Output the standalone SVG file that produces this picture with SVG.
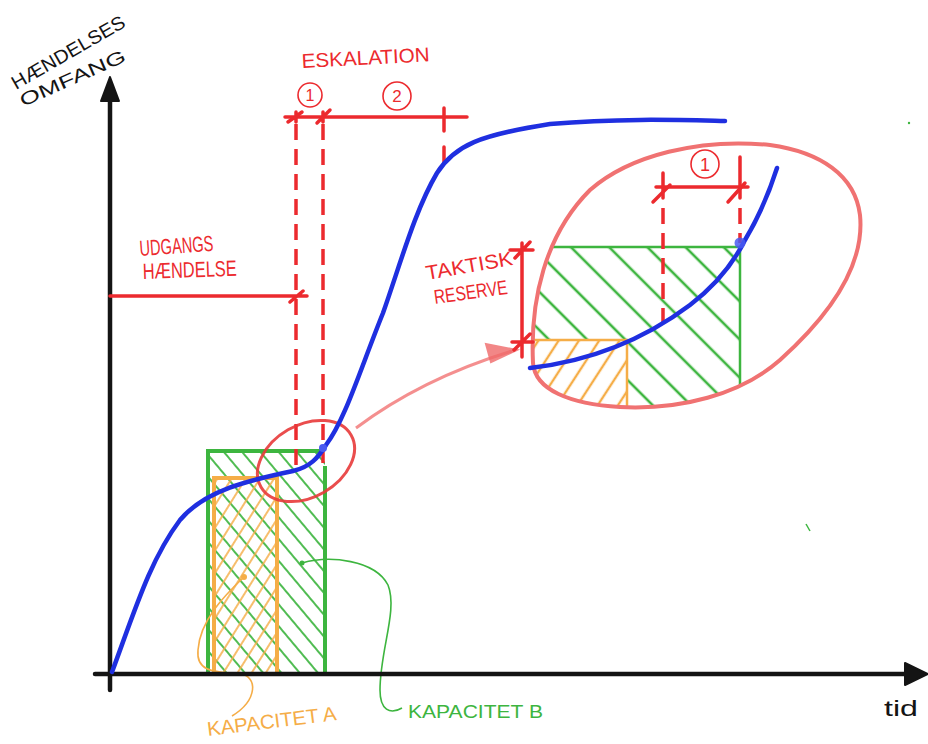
<svg xmlns="http://www.w3.org/2000/svg" width="928" height="744" viewBox="0 0 928 744">
<style>
.ax{stroke:#141414;stroke-width:4.5;fill:none;stroke-linecap:round}
.red{stroke:#ec2a2e;stroke-width:3.5;fill:none;stroke-linecap:round}
.dash{stroke:#ec2a2e;stroke-width:3.5;fill:none;stroke-dasharray:16 9}
.thin{stroke:#ec2a2e;stroke-width:1.6;fill:none}
.blue{stroke:#1f2fe0;stroke-width:4.5;fill:none;stroke-linecap:round}
.grn{stroke:#3db53f;stroke-width:4;fill:none}
.grn2{stroke:#3db53f;stroke-width:2.5;fill:none}
.org{stroke:#f5ad47;stroke-width:4;fill:none}
.org2{stroke:#f5ad47;stroke-width:2.5;fill:none}
.t{font-family:"Liberation Sans",Arial,sans-serif;fill:#ec2a2e}
.tn{font-family:"Liberation Sans",Arial,sans-serif;fill:#ec2a2e;text-anchor:middle}
</style>
<defs>
<pattern id="hG" patternUnits="userSpaceOnUse" width="14" height="14" patternTransform="rotate(-40)"><line x1="7" y1="0" x2="7" y2="14" stroke="#3db53f" stroke-width="1.8"/></pattern>
<pattern id="hO" patternUnits="userSpaceOnUse" width="12" height="12" patternTransform="rotate(32)"><line x1="6" y1="0" x2="6" y2="12" stroke="#f5ad47" stroke-width="1.6"/></pattern>
<pattern id="hG2" patternUnits="userSpaceOnUse" width="27" height="27" patternTransform="rotate(-45)"><line x1="13" y1="0" x2="13" y2="27" stroke="#3db53f" stroke-width="2.6"/></pattern>
<pattern id="hO2" patternUnits="userSpaceOnUse" width="17" height="17" patternTransform="rotate(33)"><line x1="8" y1="0" x2="8" y2="17" stroke="#f5ad47" stroke-width="2.4"/></pattern>
<clipPath id="bigClip"><path d="M 533,363 C 530,300 545,235 590,190 C 630,155 700,138 770,145 C 820,152 855,175 860,215 C 865,265 830,315 780,360 C 740,395 680,410 620,407 C 570,404 535,390 533,363 Z"/></clipPath>
</defs>
<rect width="928" height="744" fill="#ffffff"/>

<g id="capacity-main">
<rect x="208" y="451" width="117" height="222" fill="url(#hG)"/>
<rect x="214" y="478" width="63" height="195" fill="url(#hO)"/>
<path class="org" d="M 214,673 L 214,478 L 277,478 L 277,673"/>
<path class="grn" d="M 208,673 L 208,451 L 321,451 M 325,466 L 325,673"/>
</g>

<g id="leaders">
<circle cx="244" cy="577" r="3" fill="#f5ad47"/>
<path d="M 244,577 C 225,595 200,620 198,650 C 196,670 210,672 240,674 C 258,676 258,700 232,716" stroke="#f5ad47" stroke-width="1.6" fill="none"/>
<circle cx="302" cy="563" r="2.5" fill="#3db53f"/>
<path d="M 302,563 C 330,555 375,560 388,585 C 398,610 380,650 380,690 C 380,710 390,715 402,708" stroke="#3db53f" stroke-width="1.6" fill="none"/>
</g>

<g id="axes">
<path class="ax" d="M 110,690 L 110,95"/>
<polygon points="110,77 101,101 119,101" fill="#141414" stroke="#141414" stroke-width="2" stroke-linejoin="round"/>
<path class="ax" d="M 95,674 L 910,674"/>
<polygon points="928,674 905,663 905,685" fill="#141414" stroke="#141414" stroke-width="2" stroke-linejoin="round"/>
</g>

<g id="escalation">
<path class="red" d="M 285,117 L 467,117"/>
<path class="red" d="M 444,108 L 444,131 M 444,147 L 444,163"/>
<path class="red" d="M 288,122 L 302,112 M 296,112 L 296,122 M 317,123 L 330,110 M 323,112 L 323,122"/>
<path class="dash" d="M 296,124 L 296,466"/>
<path class="dash" d="M 323,124 L 323,463"/>
<circle class="thin" cx="310" cy="95" r="12"/>
<text class="tn" x="310" y="101" font-size="16">1</text>
<circle class="thin" cx="397" cy="96" r="14"/>
<text class="tn" x="397" y="102" font-size="17">2</text>
<text class="t" transform="translate(302,68) rotate(-3)" font-size="20" textLength="128" lengthAdjust="spacingAndGlyphs">ESKALATION</text>
</g>

<g id="udgangs">
<path class="red" d="M 110,296 L 307,296 M 290,302 L 303,291"/>
<text class="t" transform="translate(140,256) rotate(-4)" font-size="22" textLength="74" lengthAdjust="spacingAndGlyphs">UDGANGS</text>
<text class="t" transform="translate(143,279) rotate(-2)" font-size="22" textLength="94" lengthAdjust="spacingAndGlyphs">HÆNDELSE</text>
</g>

<g id="zoom-connector">
<ellipse cx="306" cy="461" rx="52" ry="36" transform="rotate(-30 306 461)" stroke="#e83a3a" stroke-width="3" fill="none" opacity="0.9"/>
<path d="M 356,428 C 400,395 450,370 512,351" stroke="#f06a6a" stroke-width="3" fill="none" opacity="0.75"/>
<polygon points="517,350 486,344 491,362" fill="#f06a6a" stroke="#f06a6a" stroke-width="2" opacity="0.8"/>
</g>

<g id="inset">
<g clip-path="url(#bigClip)">
<rect x="530" y="248" width="210" height="165" fill="url(#hG2)"/>
<rect x="530" y="341" width="97" height="72" fill="#ffffff"/>
<rect x="530" y="341" width="97" height="72" fill="url(#hO2)"/>
<path class="org2" d="M 530,340 L 627,340 L 627,412"/>
<path class="grn2" d="M 530,247 L 740,247 L 740,392"/>
</g>
<path d="M 533,363 C 530,300 545,235 590,190 C 630,155 700,138 770,145 C 820,152 855,175 860,215 C 865,265 830,315 780,360 C 740,395 680,410 620,407 C 570,404 535,390 533,363 Z" stroke="#f07272" stroke-width="4" fill="none"/>
<path class="red" d="M 656,187 L 748,187"/>
<path class="red" d="M 653,202 L 670,185 M 728,202 L 745,183"/>
<path class="red" stroke-width="3" d="M 663,173 L 663,198 M 740,157 L 740,198"/>
<path class="dash" stroke-width="3" stroke-dasharray="17 11" d="M 663,208 L 663,332"/>
<path class="dash" stroke-width="3" stroke-dasharray="15 10" d="M 740,208 L 740,243"/>
<circle class="thin" cx="705" cy="164" r="14"/>
<text class="tn" x="705" y="171" font-size="18">1</text>
<path class="red" stroke-width="2.5" d="M 522,243 L 522,357 M 510,250 L 533,250 M 515,258 L 530,242 M 512,342 L 533,342 M 514,350 L 530,334"/>
<text class="t" transform="translate(427,280) rotate(-10)" font-size="20" textLength="88" lengthAdjust="spacingAndGlyphs">TAKTISK</text>
<text class="t" transform="translate(435,304) rotate(-8)" font-size="20" textLength="74" lengthAdjust="spacingAndGlyphs">RESERVE</text>
</g>

<g id="curves">
<path class="blue" d="M 112,672 C 135,610 150,560 180,520 C 205,490 250,480 293,471 C 310,467 318,458 326,445 C 345,420 360,370 383,313 C 400,265 415,210 437,173 C 455,145 480,135 550,124 C 620,118 680,120 725,121"/>
<circle cx="323" cy="448" r="4" fill="#4a5af0"/>
<path class="blue" d="M 530,368 C 600,360 650,335 690,305 C 720,282 735,260 745,240 C 760,215 770,190 777,168"/>
<circle cx="740" cy="243" r="5.5" fill="#4a5af0" opacity="0.85"/>
</g>

<g id="labels">
<text transform="translate(16,90) rotate(-30)" font-family="Liberation Sans, Arial, sans-serif" font-size="19" fill="#141414" textLength="128" lengthAdjust="spacingAndGlyphs">HÆNDELSES</text>
<text transform="translate(23,107) rotate(-24)" font-family="Liberation Sans, Arial, sans-serif" font-size="18" fill="#141414" textLength="114" lengthAdjust="spacingAndGlyphs">OMFANG</text>
<text x="884" y="716" font-family="Liberation Sans, Arial, sans-serif" font-size="22" fill="#141414" textLength="34" lengthAdjust="spacingAndGlyphs">tid</text>
<text transform="translate(208,736) rotate(-7)" font-family="Liberation Sans, Arial, sans-serif" font-size="20" fill="#f5ad47" textLength="130" lengthAdjust="spacingAndGlyphs">KAPACITET A</text>
<text x="408" y="718" font-family="Liberation Sans, Arial, sans-serif" font-size="18" fill="#3db53f" textLength="135" lengthAdjust="spacingAndGlyphs">KAPACITET B</text>
</g>

<g id="specks">
<circle cx="909" cy="123" r="1.2" fill="#3db53f"/>
<line x1="806" y1="524" x2="810" y2="531" stroke="#3db53f" stroke-width="1.5"/>
</g>
</svg>
